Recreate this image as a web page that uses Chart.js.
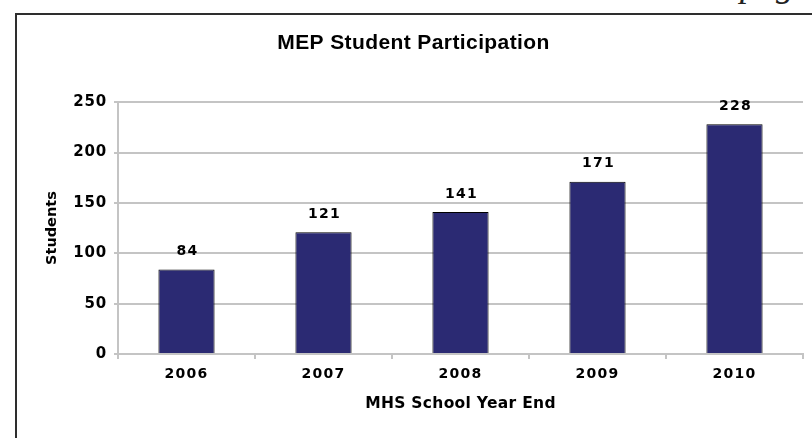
<!DOCTYPE html>
<html>
<head>
<meta charset="utf-8">
<script src="https://cdn.jsdelivr.net/npm/chart.js@4.4.0/dist/chart.umd.min.js"></script>
<style>
  html, body { margin: 0; padding: 0; background: #fff; overflow: hidden; }
  body { width: 812px; height: 438px; position: relative; }
  #frame { position: absolute; left: 15px; top: 13px; width: 820px; height: 423px;
           border-left: 2px solid #2e2e2e; border-top: 2px solid #2e2e2e; border-bottom: 1px solid #e4e4e4; }
  #pagetxt { position: absolute; left: 740px; top: -37px; font: italic 36px "Liberation Serif", serif; color: #222; white-space: nowrap; }
  #wrap { position: absolute; left: 24px; top: 0; width: 788px; height: 438px; }
</style>
</head>
<body>
<div id="frame"></div>
<div id="pagetxt">page</div>
<div id="wrap"><canvas id="c" width="788" height="438"></canvas></div>
<script>
const categories = ["2006", "2007", "2008", "2009", "2010"];
const students = [84, 121, 141, 171, 228];
const yTicks = [0, 50, 100, 150, 200, 250];
const chartTitle = "MEP Student Participation";
const xTitle = "MHS School Year End";
const yTitle = "Students";

const FAMILY = '"DejaVu Sans", Verdana, sans-serif';
// letter spacing per font size (px) to mimic the wide bold pixel font of the original
const spacingBySize = { '14': '1.2px', '15': '0.8px', '15.5': '0.3px', '14.5': '0px', '21': '0.4px' };

const letterSpacer = {
  id: 'letterSpacer',
  beforeInit(chart) {
    const ctx = chart.ctx;
    if (ctx.__patched) return;
    ctx.__patched = true;
    const orig = ctx.fillText.bind(ctx);
    ctx.fillText = function (t, x, y, mw) {
      const m = /([\d.]+)px/.exec(this.font || '');
      const sp = m && spacingBySize[m[1]] ? spacingBySize[m[1]] : '0px';
      try { this.letterSpacing = sp; } catch (e) {}
      if (mw === undefined) orig(t, x, y); else orig(t, x, y, mw);
      try { this.letterSpacing = '0px'; } catch (e) {}
    };
  }
};

const valueLabels = {
  id: 'valueLabels',
  afterDatasetsDraw(chart) {
    const ctx = chart.ctx;
    const meta = chart.getDatasetMeta(0);
    ctx.save();
    ctx.font = 'bold 14px ' + FAMILY;
    ctx.fillStyle = '#000';
    ctx.textAlign = 'center';
    ctx.textBaseline = 'middle';
    meta.data.forEach((el, i) => {
      ctx.fillText(String(students[i]), el.x + 1, el.y - 18);
    });
    ctx.restore();
  }
};

new Chart(document.getElementById('c'), {
  type: 'bar',
  data: {
    labels: categories,
    datasets: [{
      data: students,
      backgroundColor: '#2b2a73',
      borderColor: '#000',
      borderWidth: 1,
      categoryPercentage: 1.0,
      barPercentage: 0.41
    }]
  },
  options: {
    responsive: false,
    animation: false,
    devicePixelRatio: 1,
    layout: { padding: { left: 0, right: 9, top: 0, bottom: 0 } },
    plugins: {
      legend: { display: false },
      tooltip: { enabled: false },
      title: {
        display: true,
        text: chartTitle,
        color: '#000',
        font: { family: '"Liberation Sans", Arial, sans-serif', size: 21, weight: 'bold', lineHeight: 1.2 },
        padding: { top: 31, bottom: 46 }
      }
    },
    scales: {
      x: {
        afterFit(scale) { scale.height = 84; },
        grid: {
          display: true,
          drawOnChartArea: true,
          offset: true,
          color: (c) => (c.index === 5 ? '#c4c4c4' : 'rgba(0,0,0,0)'),
          tickColor: '#c4c4c4',
          lineWidth: 2,
          tickLength: 5
        },
        border: { display: true, color: '#c4c4c4', width: 2 },
        ticks: {
          color: '#000',
          padding: 7,
          font: { family: FAMILY, size: 14, weight: 'bold' }
        },
        title: {
          display: true,
          text: xTitle,
          color: '#000',
          font: { family: FAMILY, size: 15.5, weight: 'bold', lineHeight: 1.2 },
          padding: { top: 0, bottom: 25 }
        }
      },
      y: {
        min: 0,
        max: 250,
        afterFit(scale) { scale.width = 94; },
        afterBuildTicks(scale) { scale.ticks = yTicks.map(v => ({ value: v })); },
        grid: {
          color: '#c4c4c4',
          lineWidth: 2,
          tickLength: 4
        },
        border: { display: true, color: '#c4c4c4', width: 2 },
        ticks: {
          color: '#000',
          padding: 7,
          font: { family: FAMILY, size: 15, weight: 'bold' }
        },
        title: {
          display: true,
          text: yTitle,
          color: '#000',
          font: { family: FAMILY, size: 14.5, weight: 'bold', lineHeight: 1.2 },
          padding: { top: 20, bottom: 0 }
        }
      }
    }
  },
  plugins: [letterSpacer, valueLabels]
});
</script>
</body>
</html>
